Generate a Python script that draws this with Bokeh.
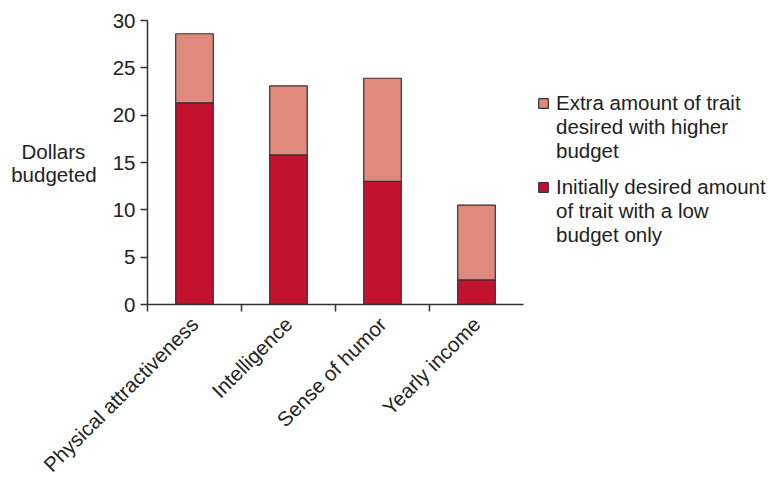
from math import pi
from bokeh.plotting import figure
from bokeh.models import ColumnDataSource, Range1d, FixedTicker, Legend, LegendItem
from bokeh.embed import file_html
from bokeh.resources import INLINE

categories = ["Physical attractiveness", "Intelligence", "Sense of humor", "Yearly income"]
initial = [21.3, 15.8, 13.0, 2.6]
extra = [7.3, 7.3, 10.9, 7.9]
y_ticks = [0, 5, 10, 15, 20, 25, 30]
legend_extra = ["Extra amount of trait", "desired with higher", "budget"]
legend_initial = ["Initially desired amount", "of trait with a low", "budget only"]
y_label = "Dollars\u00a0\u00a0\nbudgeted"

DARK = "#C3122F"
LIGHT = "#DF8A7C"
EDGE = "#333333"
TEXT = "#222222"
FONT = "Liberation Sans"
FS = "20.5px"

n = len(categories)
xs = [i + 0.5 for i in range(n)]
source = ColumnDataSource(dict(x=xs, initial=initial, extra=extra))

p = figure(frame_width=376, frame_height=284, output_backend="svg", toolbar_location=None,
           x_range=Range1d(0, n), y_range=Range1d(0, 30),
           min_border_left=147, min_border_right=251, min_border_top=20, min_border_bottom=0)

rs = p.vbar_stack(["initial", "extra"], x="x", width=0.4, source=source,
                  fill_color=[DARK, LIGHT], line_color=EDGE, line_width=1.2)
# invisible renderer used only for continuation lines of the legend
blank = p.vbar(x=[], top=[], width=0.4, fill_alpha=0, line_alpha=0)

p.xgrid.visible = False
p.ygrid.visible = False
p.outline_line_color = None

# x axis
xa = p.xaxis[0]
xa.ticker = FixedTicker(ticks=xs, minor_ticks=list(range(n)))
xa.major_label_overrides = {x: c for x, c in zip(xs, categories)}
xa.major_label_orientation = pi / 4
xa.major_tick_line_color = None
xa.minor_tick_line_color = EDGE
xa.minor_tick_out = 7
xa.minor_tick_in = 0
xa.minor_tick_line_width = 1.5
xa.axis_line_color = EDGE
xa.axis_line_width = 1.5
xa.major_label_text_font = FONT
xa.major_label_text_font_size = FS
xa.major_label_text_color = TEXT
xa.major_label_standoff = 9

# y axis
ya = p.yaxis[0]
ya.ticker = FixedTicker(ticks=y_ticks, minor_ticks=[])
ya.major_tick_out = 7
ya.major_tick_in = 0
ya.major_tick_line_color = EDGE
ya.major_tick_line_width = 1.5
ya.axis_line_color = EDGE
ya.axis_line_width = 1.5
ya.major_label_text_font = FONT
ya.major_label_text_font_size = FS
ya.major_label_text_color = TEXT
ya.major_label_standoff = 5
ya.axis_label = y_label
ya.axis_label_orientation = "horizontal"
ya.axis_label_text_align = "center"
ya.axis_label_text_line_height = 1.0
ya.axis_label_text_font = FONT
ya.axis_label_text_font_size = FS
ya.axis_label_text_font_style = "normal"
ya.axis_label_text_color = TEXT
ya.axis_label_standoff = 13

items = [LegendItem(label=legend_extra[0], renderers=[rs[1]])]
items += [LegendItem(label=t, renderers=[blank]) for t in legend_extra[1:]]
items += [LegendItem(label="", renderers=[blank])]
items += [LegendItem(label=legend_initial[0], renderers=[rs[0]])]
items += [LegendItem(label=t, renderers=[blank]) for t in legend_initial[1:]]

legend = Legend(items=items, location=(14, 57), border_line_color=None,
                background_fill_alpha=0, label_text_font=FONT, label_text_font_size=FS,
                label_text_color=TEXT, glyph_width=12, glyph_height=12, label_height=8,
                spacing=0, label_standoff=7, padding=0, margin=0)
p.add_layout(legend, "right")

open("out.html", "w").write(file_html(p, INLINE))
